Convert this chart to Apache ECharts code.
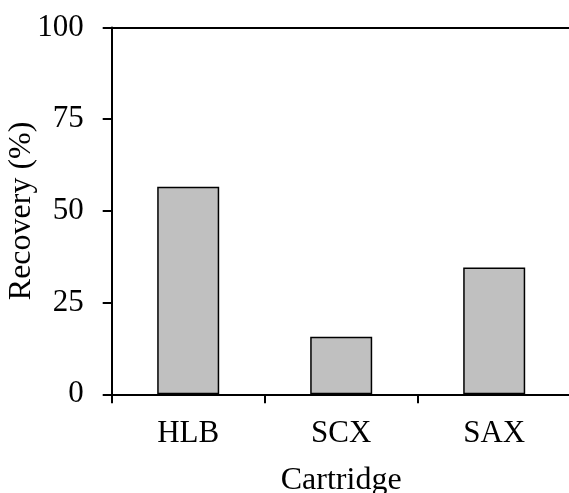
<!DOCTYPE html>
<html>
<head>
<meta charset="utf-8">
<script src="https://cdn.jsdelivr.net/npm/echarts@6/dist/echarts.min.js"></script>
<style>
html,body{margin:0;padding:0;background:#fff;}
#chart{width:569px;height:493px;}
</style>
</head>
<body>
<div id="chart"></div>
<script>
const categories = ['HLB', 'SCX', 'SAX'];
const recovery = [56.6, 15.7, 34.6];
const yTicks = [0, 25, 50, 75, 100];

const font = '"Liberation Serif", "Times New Roman", serif';
const chart = echarts.init(document.getElementById('chart'), null, {renderer: 'canvas'});
chart.setOption({
  animation: false,
  backgroundColor: '#ffffff',
  grid: {left: 111.7, top: 27.5, right: -1.7, bottom: 98.7, containLabel: false, outerBoundsMode: 'none'},
  xAxis: [{
    type: 'category',
    data: categories,
    position: 'bottom',
    name: 'Cartridge',
    nameLocation: 'middle',
    nameGap: 70,
    nameMoveOverlap: false,
    nameTextStyle: {fontFamily: font, fontSize: 32, color: '#000'},
    axisLine: {show: true, lineStyle: {color: '#000', width: 2}},
    axisTick: {show: true, length: 9, inside: false, alignWithLabel: false, interval: 0, lineStyle: {color: '#000', width: 2}},
    axisLabel: {fontFamily: font, fontSize: 31, color: '#000', margin: 24, interval: 0},
    splitLine: {show: false}
  }, {
    type: 'category',
    data: categories,
    position: 'top',
    axisLine: {show: true, onZero: false, lineStyle: {color: '#000', width: 2}},
    axisTick: {show: false},
    axisLabel: {show: false},
    splitLine: {show: false}
  }],
  yAxis: {
    type: 'value',
    min: yTicks[0],
    max: yTicks[yTicks.length - 1],
    interval: 25,
    name: 'Recovery (%)',
    nameLocation: 'middle',
    nameGap: 74,
    nameMoveOverlap: false,
    nameTextStyle: {fontFamily: font, fontSize: 32, color: '#000'},
    axisLine: {show: true, lineStyle: {color: '#000', width: 2}},
    axisTick: {show: true, length: 9, inside: false, lineStyle: {color: '#000', width: 2}},
    axisLabel: {fontFamily: font, fontSize: 31, color: '#000', margin: 28},
    splitLine: {show: false}
  },
  series: [{
    type: 'bar',
    data: recovery,
    barWidth: 62,
    itemStyle: {color: '#c0c0c0', borderColor: '#000', borderWidth: 1.5}
  }]
});
</script>
</body>
</html>
